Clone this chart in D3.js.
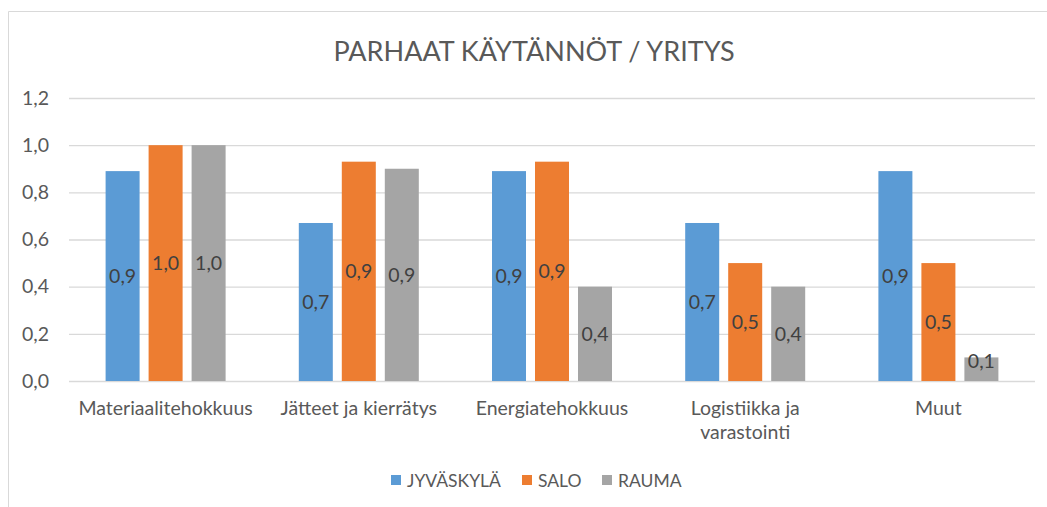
<!DOCTYPE html>
<html>
<head>
<meta charset="utf-8">
<script src="https://cdn.jsdelivr.net/npm/d3@7"></script>
<style>
  html, body { margin: 0; padding: 0; background: #fff; }
  svg { display: block; }
  text { font-family: Lato, "Open Sans", sans-serif; }
</style>
</head>
<body>
<svg id="chart" width="1047" height="507"></svg>
<script>
const title = "PARHAAT KÄYTÄNNÖT / YRITYS";
const categories = ["Materiaalitehokkuus", "Jätteet ja kierrätys", "Energiatehokkuus", "Logistiikka ja varastointi", "Muut"];
const categoryLines = [["Materiaalitehokkuus"], ["Jätteet ja kierrätys"], ["Energiatehokkuus"], ["Logistiikka ja", "varastointi"], ["Muut"]];
const seriesNames = ["JYVÄSKYLÄ", "SALO", "RAUMA"];
const jyvaskyla = [0.89, 0.67, 0.89, 0.67, 0.89];
const salo = [1.0, 0.93, 0.93, 0.5, 0.5];
const rauma = [1.0, 0.9, 0.4, 0.4, 0.1];
const seriesColors = ["#5b9bd5", "#ed7d31", "#a5a5a5"];
const yTicks = [0, 0.2, 0.4, 0.6, 0.8, 1.0, 1.2];

const seriesValues = [jyvaskyla, salo, rauma];
const fmt = v => d3.format(".1f")(v).replace(".", ",");

const svg = d3.select("#chart");

// chart frame (cropped at right and bottom)
svg.append("path")
  .attr("d", "M8.5,507 L8.5,11.5 L1047,11.5")
  .attr("fill", "none").attr("stroke", "#d9d9d9").attr("stroke-width", 1);

const plot = { left: 69, right: 1035, top: 98, bottom: 381 };

const x0 = d3.scaleBand().domain(categories).range([plot.left, plot.right]).paddingInner(0).paddingOuter(0);
const x1 = d3.scaleBand().domain(seriesNames).range([-64.5, 64.5]).paddingInner(9 / 43).paddingOuter(9 / 86);
const y = d3.scaleLinear().domain([0, 1.2]).range([plot.bottom, plot.top]);

// title
svg.append("text")
  .attr("x", 534).attr("y", 61)
  .attr("text-anchor", "middle")
  .attr("fill", "#595959")
  .attr("font-size", 27)
  .text(title);

// gridlines + y axis labels
const yAxis = d3.axisLeft(y).tickValues(yTicks).tickFormat(fmt)
  .tickSize(-(plot.right - plot.left)).tickPadding(20);
const gy = svg.append("g").attr("transform", `translate(${plot.left},0)`).call(yAxis);
gy.select(".domain").remove();
gy.selectAll(".tick line").attr("stroke", "#d9d9d9").attr("stroke-width", 1.3);
gy.selectAll(".tick text").attr("fill", "#595959").attr("font-size", 19.5)
  .attr("font-family", "Lato, 'Open Sans', sans-serif");

// bars
const groups = svg.append("g").selectAll("g")
  .data(categories)
  .join("g")
  .attr("transform", c => `translate(${x0(c) + x0.bandwidth() / 2},0)`);

groups.each(function(c, ci) {
  const g = d3.select(this);
  seriesNames.forEach((s, si) => {
    const v = seriesValues[si][ci];
    const top = y(v);
    g.append("rect")
      .attr("x", x1(s)).attr("y", top)
      .attr("width", x1.bandwidth()).attr("height", y(0) - top)
      .attr("fill", seriesColors[si]);
    const h = y(0) - top;
    const ly = h < 30 ? top + 4 : top + h / 2;
    g.append("text")
      .attr("x", x1(s) + x1.bandwidth() / 2).attr("y", ly)
      .attr("dy", "0.35em")
      .attr("text-anchor", "middle")
      .attr("fill", "#404040")
      .attr("font-size", 19.5)
      .text(fmt(v));
  });
});

// category labels
const xl = svg.append("g");
categories.forEach((c, ci) => {
  const t = xl.append("text")
    .attr("x", x0(c) + x0.bandwidth() / 2)
    .attr("y", 415)
    .attr("text-anchor", "middle")
    .attr("fill", "#595959")
    .attr("font-size", 19.5);
  categoryLines[ci].forEach((line, li) => {
    t.append("tspan").attr("x", x0(c) + x0.bandwidth() / 2).attr("dy", li === 0 ? 0 : 24).text(line);
  });
});

// legend
const legendX = [391, 522, 602];
const lg = svg.append("g");
seriesNames.forEach((s, si) => {
  lg.append("rect").attr("x", legendX[si]).attr("y", 475).attr("width", 10).attr("height", 10).attr("fill", seriesColors[si]);
  lg.append("text").attr("x", legendX[si] + 16).attr("y", 487)
    .attr("fill", "#595959").attr("font-size", 17.5).text(s);
});
</script>
</body>
</html>
